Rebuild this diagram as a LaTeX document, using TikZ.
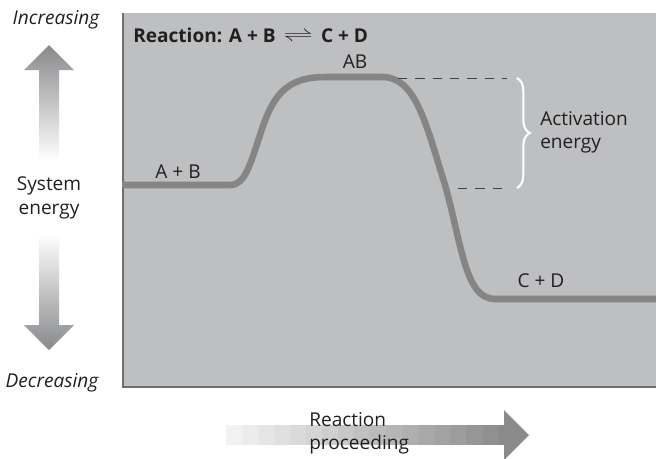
\documentclass[tikz,border=0pt]{standalone}
\usepackage{fontspec}
\setmainfont{Open Sans}
\usepackage{graphicx}
\usepackage{tikz}
\usetikzlibrary{decorations.pathreplacing}
\definecolor{panelcolor}{HTML}{BEBFC1}
\definecolor{curvecolor}{HTML}{858585}
\definecolor{edgecolor}{HTML}{6E6E6E}
\definecolor{arrowcolor}{HTML}{88898B}
\definecolor{textcolor}{HTML}{231F20}
\tikzset{label text/.style={font=\fontsize{14.3}{17.5}\selectfont,text=textcolor,inner sep=0pt},axis word/.style={label text,font=\fontsize{14.3}{17.5}\selectfont\itshape},title text/.style={label text,font=\fontsize{14.3}{17.5}\selectfont\bfseries},energy curve/.style={draw=curvecolor,line width=4.9pt},level line/.style={draw=black!75,line width=0.6pt,dash pattern=on 7pt off 6pt},energy brace/.style={draw=white,line width=1.6pt,decorate,decoration={brace,amplitude=9.5pt}}}

\begin{document}
\begin{tikzpicture}[x=0.75pt,y=-0.75pt]
 \useasboundingbox (0,0) rectangle (656,458);
 \fill[panelcolor] (122,12.7) rectangle (656,388);
 \draw[edgecolor,line width=1.5pt] (122.8,12.7) -- (122.8,387.2) -- (656,387.2);
 \draw[energy curve] (122,185) -- (230,185) .. controls (245,185) and (250,165) .. (260,135) .. controls (272,97) and (285,77) .. (325,77) -- (382,77) .. controls (415,77) and (425,120) .. (445,185) .. controls (462,245) and (465,299) .. (495,299) -- (656,299);
 \coordinate (peaklevel) at (398,78);
 \coordinate (peakend) at (507,78);
 \coordinate (startlevel) at (458,188);
 \coordinate (startend) at (507,188);
 \coordinate (bracetop) at (517,78);
 \coordinate (bracebottom) at (517,188);
 \draw[level line] (peaklevel) -- (peakend);
 \draw[level line] (startlevel) -- (startend);
 \draw[energy brace] (bracetop) -- (bracebottom);
 \shade[top color=arrowcolor,bottom color=white] (49,45) -- (74,70) -- (59,70) -- (59,160) -- (39,160) -- (39,70) -- (24,70) -- cycle;
 \shade[top color=white,bottom color=arrowcolor] (39,233) -- (59,233) -- (59,325) -- (74,325) -- (49,350) -- (24,325) -- (39,325) -- cycle;
 \foreach \i in {0,...,17} {
   \pgfmathsetmacro\pct{5+2.4*\i}
   \fill[black!\pct] (226+16*\i,425) rectangle (242+16*\i,445);
 }
 \fill[black!46] (504,410) -- (529,435) -- (504,460) -- cycle;
 \node[title text,anchor=west] (title) at (133,35) {Reaction: A + B\hspace{6pt}\raisebox{0.5pt}{\resizebox{22pt}{7pt}{$\rightleftharpoons$}}\hspace{6pt}C + D};
 \node[label text] (reactants) at (178,172) {A + B};
 \node[label text] (complex) at (355,62) {AB};
 \node[label text] (products) at (541,281) {C + D};
 \node[label text,align=left,anchor=west] (activation) at (540,132) {Activation\\energy};
 \node[label text,align=center] (energy) at (49,198) {System\\energy};
 \node[axis word] (increasing) at (56,20) {Increasing};
 \node[axis word] (decreasing) at (52,383) {Decreasing};
 \node[label text,align=left,anchor=north west] (proceeding) at (309,412) {Reaction\\proceeding};
\end{tikzpicture}
\end{document}
